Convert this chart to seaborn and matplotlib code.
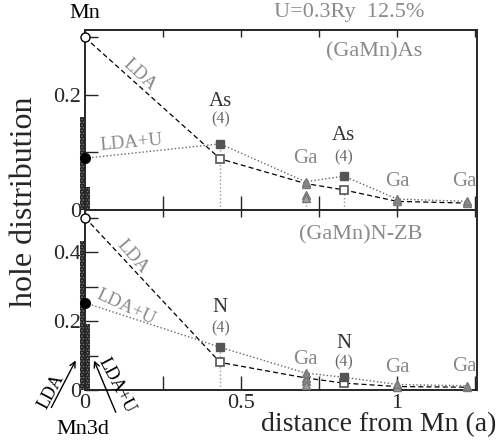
import matplotlib
matplotlib.use("Agg")
import matplotlib.pyplot as plt
import seaborn as sns
import numpy as np
import pandas as pd

# ---------------- data ----------------
dist = [0.0, 0.433, 0.707, 0.829, 1.0, 1.225]
species_top = ["Mn", "As", "Ga", "As", "Ga", "Ga"]
species_bot = ["Mn", "N", "Ga", "N", "Ga", "Ga"]

top_lda = [0.300, 0.089, 0.046, 0.035, 0.015, 0.012]
top_ldau = [0.090, 0.115, 0.049, 0.059, 0.019, 0.015]
top_ga_extra = [0.026, 0.020]

bot_lda = [0.500, 0.080, 0.035, 0.020, 0.010, 0.008]
bot_ldau = [0.253, 0.124, 0.049, 0.037, 0.016, 0.012]
bot_ga_extra = [0.025, 0.015]

mn3d_top = [0.162, 0.040]   # LDA, LDA+U
mn3d_bot = [0.432, 0.190]

GRAY = "#8a8a8a"
DGRAY = "#555555"

sns.set_style("ticks")
plt.rcParams["font.family"] = ["Liberation Serif", "DejaVu Serif"]
plt.rcParams["hatch.linewidth"] = 0.7

W, H = 498, 445
fig = plt.figure(figsize=(W / 100, H / 100), dpi=100)
L, R = 85, 477
ax1 = fig.add_axes([L / W, 1 - 210 / H, (R - L) / W, 180 / H])
ax2 = fig.add_axes([L / W, 1 - 390 / H, (R - L) / W, 180 / H])


def panel(ax, lda, ldau, extra, bars, ymax, species, nlab):
    df = pd.DataFrame({"d": dist, "lda": lda, "ldau": ldau})
    # bars for Mn3d
    ax.bar([-0.0075], [bars[0]], width=0.017, facecolor="#262626",
           edgecolor="#7a7a7a", hatch="......", linewidth=0, clip_on=False, zorder=2)
    ax.bar([0.005], [bars[1]], width=0.022, facecolor="#262626",
           edgecolor="#7a7a7a", hatch="......", linewidth=0, clip_on=False, zorder=2)
    sns.lineplot(data=df, x="d", y="lda", ax=ax, color="black", linestyle=(0, (4, 2.5)),
                 linewidth=0.9, sort=False, estimator=None, zorder=3)
    sns.lineplot(data=df, x="d", y="ldau", ax=ax, color="#666666", linestyle=(0, (1, 1.6)),
                 linewidth=1.0, sort=False, estimator=None, zorder=3)
    for l in ax.lines:
        l.set_clip_on(False)
    # markers
    ax.plot([dist[0]], [lda[0]], "o", ms=6.5, mfc="white", mec="black", mew=1.0, clip_on=False, zorder=5)
    ax.plot([dist[0]], [ldau[0]], "o", ms=7, mfc="black", mec="black", clip_on=False, zorder=5)
    sq = [1, 3]
    ax.plot([dist[i] for i in sq], [lda[i] for i in sq], "s", ms=6, mfc="white", mec=DGRAY, mew=1.2, zorder=5)
    ax.plot([dist[i] for i in sq], [ldau[i] for i in sq], "s", ms=6, mfc=DGRAY, mec=DGRAY, zorder=5)
    tr = [2, 4, 5]
    ax.plot([dist[i] for i in tr], [lda[i] for i in tr], "^", ms=6, mfc="#a0a0a0", mec="#777777", mew=1.0, zorder=5, clip_on=False)
    ax.plot([dist[i] for i in tr], [ldau[i] for i in tr], "^", ms=6, mfc="#888888", mec="#777777", zorder=5, clip_on=False)
    ax.plot([dist[2]] * len(extra), extra, "^", ms=6, mfc="#a0a0a0", mec="#777777", mew=1.0, zorder=5)
    # vertical dotted guides
    ax.plot([dist[1], dist[1]], [0, max(lda[1], ldau[1])], color="#999999", linestyle=":", lw=1.0, zorder=1)
    if nlab == "top":
        ax.plot([dist[2], dist[2]], [0, min(extra)], color="#999999", linestyle=":", lw=1.0, zorder=1)
        ax.plot([dist[3], dist[3]], [0, lda[3]], color="#999999", linestyle=":", lw=1.0, zorder=1)
        ax.plot([1.0, 1.0], [-0.017, lda[4]], color="#555555", linestyle="-", lw=1.0, zorder=1, clip_on=False)
    ax.set_xlim(0, 1.256)
    ax.set_ylim(0, ymax)
    ax.set_xlabel("")
    ax.set_ylabel("")
    xt = [0, 0.25, 0.5, 0.75, 1.0, 1.25]
    ax.set_xticks(xt)
    yt = np.arange(0, ymax, 0.1)
    ax.set_yticks(yt)
    ylabels = ["0" if abs(v) < 1e-9 else ("%.1f" % v if round(v * 10) % 2 == 0 else "") for v in yt]
    ax.set_yticklabels(ylabels)
    ax.tick_params(axis="both", direction="in", labelsize=16, width=1.0, pad=3)
    ax.tick_params(axis="x", top=True, length=10)
    ax.tick_params(axis="y", length=9)
    for t in ax.xaxis.get_major_ticks():
        t.tick2line.set_markersize(5)
    for s in ax.spines.values():
        s.set_linewidth(1.4)
        s.set_visible(True)


panel(ax1, top_lda, top_ldau, top_ga_extra, mn3d_top, 0.313, species_top, "top")
panel(ax2, bot_lda, bot_ldau, bot_ga_extra, mn3d_bot, 0.522, species_bot, "bot")
ax1.set_xticklabels([])
ax2.set_xticklabels(["0", "", "0.5", "", "1", ""])
ax1.set_yticklabels(["0", "", "0.2", ""])

# ---------------- texts: top ----------------
kw = dict(ha="center", va="center", clip_on=False)
ax1.text(0.0, 0.342, "Mn", fontsize=16, color="black", **kw)
ax1.text(0.847, 0.343, "U=0.3Ry  12.5%", fontsize=16, color=GRAY, **kw)
ax1.text(0.927, 0.275, "(GaMn)As", fontsize=16, color=GRAY, **kw)
ax1.text(0.176, 0.235, "LDA", fontsize=13.5, color=GRAY, rotation=-43, **kw)
ax1.text(0.147, 0.1165, "LDA+U", fontsize=13.5, color=GRAY, rotation=5, **kw)
ax1.text(dist[1], 0.188, species_top[1], fontsize=15, color="#333333", **kw)
ax1.text(dist[1], 0.157, "(4)", fontsize=11.5, color="#666666", **kw)
ax1.text(dist[2], 0.090, species_top[2], fontsize=15, color=GRAY, **kw)
ax1.text(dist[3], 0.129, species_top[3], fontsize=15, color="#333333", **kw)
ax1.text(dist[3], 0.092, "(4)", fontsize=11.5, color="#666666", **kw)
ax1.text(dist[4], 0.050, species_top[4], fontsize=15, color=GRAY, **kw)
ax1.text(1.217, 0.050, species_top[5], fontsize=15, color=GRAY, **kw)

# ---------------- texts: bottom ----------------
ax2.text(0.882, 0.449, "(GaMn)N-ZB", fontsize=16, color=GRAY, **kw)
ax2.text(0.153, 0.386, "LDA", fontsize=13.5, color=GRAY, rotation=-49, **kw)
ax2.text(0.131, 0.241, "LDA+U", fontsize=13.5, color=GRAY, rotation=-25, **kw)
ax2.text(dist[1], 0.240, species_bot[1], fontsize=15, color="#333333", **kw)
ax2.text(dist[1], 0.180, "(4)", fontsize=11.5, color="#666666", **kw)
ax2.text(dist[2], 0.087, species_bot[2], fontsize=15, color=GRAY, **kw)
ax2.text(dist[3], 0.136, species_bot[3], fontsize=15, color="#333333", **kw)
ax2.text(dist[3], 0.081, "(4)", fontsize=11.5, color="#666666", **kw)
ax2.text(dist[4], 0.064, species_bot[4], fontsize=15, color=GRAY, **kw)
ax2.text(1.217, 0.067, species_bot[5], fontsize=15, color=GRAY, **kw)

# Mn3d annotation
ax2.annotate("", xy=(-0.0256, 0.0928), xytext=(-0.112, -0.058), xycoords="data",
             arrowprops=dict(arrowstyle="->", color="black", lw=1.0), annotation_clip=False)
ax2.annotate("", xy=(0.0256, 0.0928), xytext=(0.102, -0.072), xycoords="data",
             arrowprops=dict(arrowstyle="->", color="black", lw=1.0), annotation_clip=False)
ax2.text(-0.006, -0.116, "Mn3d", fontsize=16, color="black", **kw)
ax2.text(-0.108, -0.004, "LDA", fontsize=13, color="black", rotation=62, **kw)
ax2.text(0.102, 0.012, "LDA+U", fontsize=13, color="black", rotation=-62, **kw)

fig.text(25 / W, 1 - 202 / H, "hole distribution", rotation=90, fontsize=23,
         ha="center", va="center")
fig.text(496 / W, 1 - 425 / H, "distance from Mn (a)", fontsize=20, ha="right", va="center")

fig.savefig("out.png", dpi=100)
